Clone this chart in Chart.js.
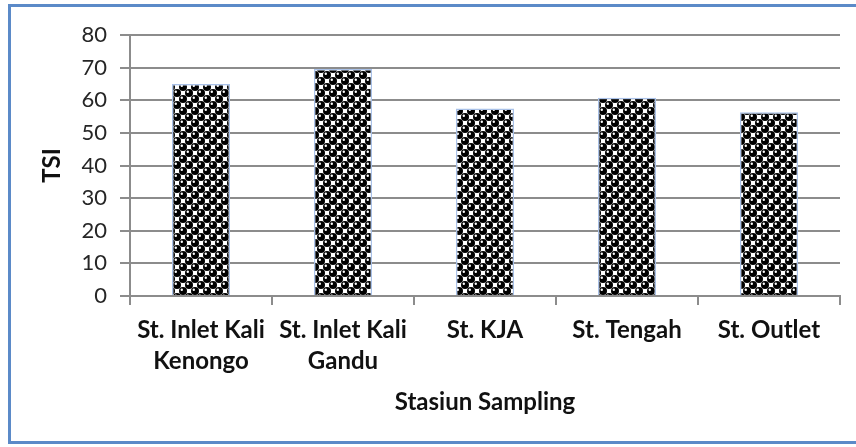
<!DOCTYPE html>
<html>
<head>
<meta charset="utf-8">
<script src="https://cdn.jsdelivr.net/npm/chart.js@4.4.1/dist/chart.umd.min.js"></script>
<style>
  html, body { margin: 0; padding: 0; background: #ffffff; overflow: hidden; }
  #wrap { position: relative; width: 856px; height: 447px; }
  #frame {
    position: absolute; left: 8px; top: 4px; width: 860px; height: 440px;
    border: 3px solid #5b8ac8; box-sizing: border-box; pointer-events: none;
  }
  canvas { position: absolute; left: 0; top: 0; }
</style>
</head>
<body>
<div id="wrap">
  <canvas id="c" width="856" height="447"></canvas>
  <div id="frame"></div>
</div>
<script>
// Trophic State Index per sampling station
const stations = [
  ["St. Inlet Kali", "Kenongo"],
  ["St. Inlet Kali", "Gandu"],
  "St. KJA",
  "St. Tengah",
  "St. Outlet"
];
const tsiValues = [65.0, 69.6, 57.5, 60.8, 56.3];
const yTicks = [0, 10, 20, 30, 40, 50, 60, 70, 80];

// Sphere fill: checkerboard of black balls with a small white highlight
function spherePattern() {
  const s = 12;
  const t = document.createElement('canvas');
  t.width = s; t.height = s;
  const g = t.getContext('2d');
  g.fillStyle = '#ffffff';
  g.fillRect(0, 0, s, s);
  const base = [[3, 3], [9, 9]];
  const centers = [];
  base.forEach(([x, y]) => {
    for (const dx of [-s, 0, s]) for (const dy of [-s, 0, s]) centers.push([x + dx, y + dy]);
  });
  g.fillStyle = '#000000';
  centers.forEach(([x, y]) => { g.beginPath(); g.arc(x, y, 4.0, 0, Math.PI * 2); g.fill(); });
  g.fillStyle = '#ffffff';
  centers.forEach(([x, y]) => { g.beginPath(); g.arc(x - 1.2, y - 1.2, 1.2, 0, Math.PI * 2); g.fill(); });
  return g.createPattern(t, 'repeat');
}

const font = "Lato, 'Open Sans', sans-serif";
const gridGrey = '#8c8c8c';

new Chart(document.getElementById('c'), {
  type: 'bar',
  data: {
    labels: stations,
    datasets: [{
      label: 'TSI',
      data: tsiValues,
      backgroundColor: spherePattern(),
      borderColor: '#a9c1e8',
      borderWidth: 1.5,
      borderSkipped: 'bottom',
      categoryPercentage: 1.0,
      barPercentage: 0.41
    }]
  },
  options: {
    responsive: false,
    animation: false,
    devicePixelRatio: 1,
    layout: { padding: { left: 0, right: 16, top: 35, bottom: 0 } },
    plugins: { legend: { display: false }, tooltip: { enabled: false } },
    scales: {
      x: {
        offset: true,
        afterFit: (scale) => { scale.height = 151; },
        grid: {
          offset: true,
          drawOnChartArea: false,
          drawTicks: true,
          tickLength: 9,
          color: gridGrey,
          lineWidth: 2
        },
        border: { display: true, color: gridGrey, width: 2 },
        ticks: {
          color: '#111111',
          font: { family: font, size: 24, weight: 'bold', lineHeight: 31 / 24 },
          padding: 10,
          maxRotation: 0,
          autoSkip: false
        },
        title: {
          display: true,
          text: 'Stasiun Sampling',
          color: '#111111',
          font: { family: font, size: 24, weight: 'bold', lineHeight: 1.2 },
          padding: { top: 4, bottom: 30 }
        }
      },
      y: {
        min: 0,
        max: 80,
        afterFit: (scale) => { scale.width = 130; },
        afterBuildTicks: (axis) => { axis.ticks = yTicks.map(v => ({ value: v })); },
        grid: {
          color: gridGrey,
          lineWidth: 2,
          tickLength: 10,
          drawTicks: true
        },
        border: { display: true, color: gridGrey, width: 2 },
        ticks: {
          color: '#262626',
          font: { family: font, size: 22 },
          padding: 13
        },
        title: {
          display: true,
          text: 'TSI',
          color: '#111111',
          font: { family: font, size: 24, weight: 'bold', lineHeight: 1.2 },
          padding: { top: 38, bottom: 0 }
        }
      }
    }
  }
});
</script>
</body>
</html>
